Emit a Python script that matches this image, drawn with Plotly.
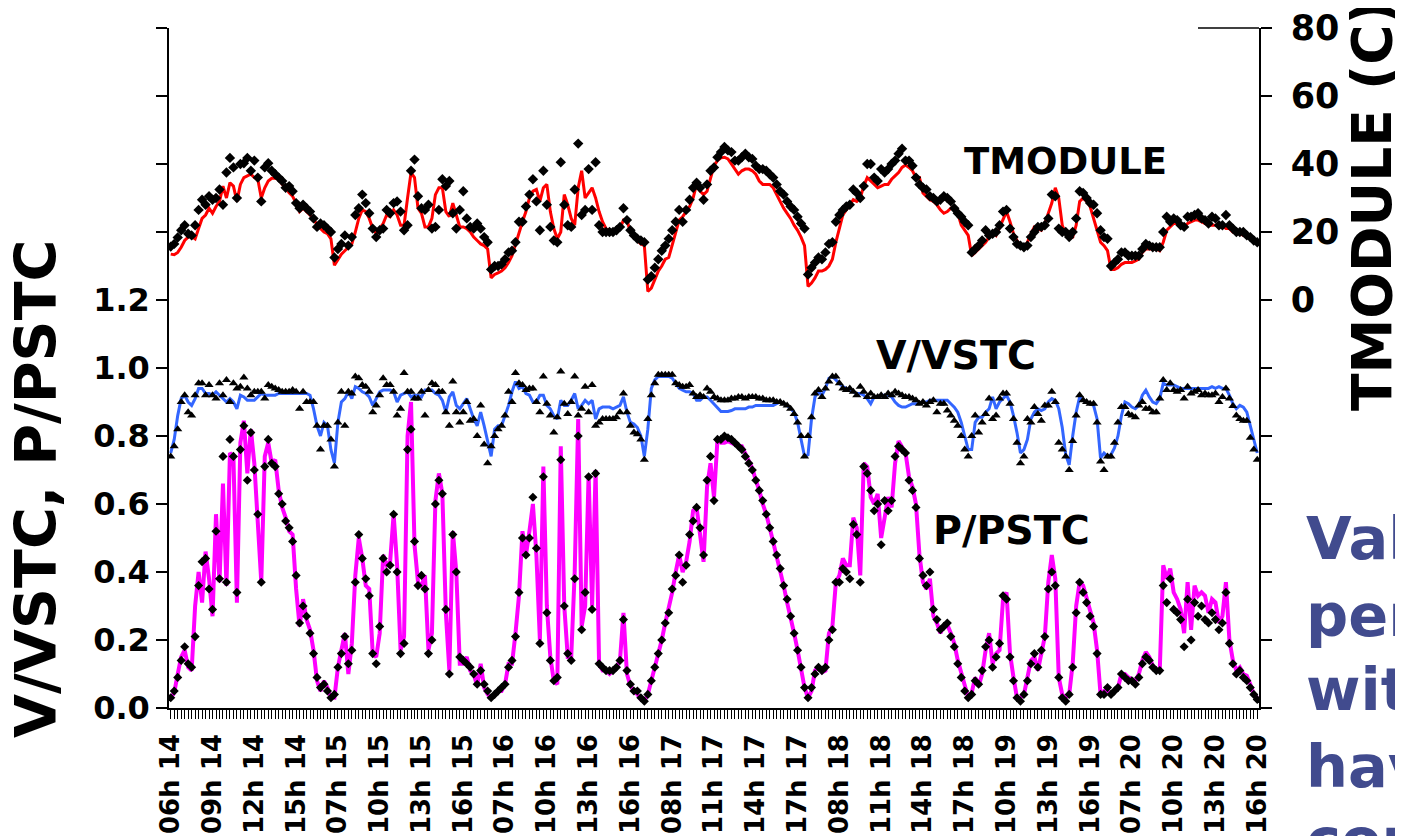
import plotly.graph_objects as go

# ---------------- data (15-min samples, 313 points) ----------------
tick_labels = ["06h 14", "09h 14", "12h 14", "15h 14", "07h 15", "10h 15", "13h 15", "16h 15",
               "07h 16", "10h 16", "13h 16", "16h 16", "08h 17", "11h 17", "14h 17", "17h 17",
               "08h 18", "11h 18", "14h 18", "17h 18", "10h 19", "13h 19", "16h 19", "07h 20",
               "10h 20", "13h 20", "16h 20"]

t_measured = [
    13.5, 13.3, 14, 15.5, 17.5, 18.5, 18.7, 18, 21, 24,
    25, 27, 25.5, 27.5, 29, 33.5, 30, 34.5, 33.5, 29,
    34, 36, 36.5, 37, 36, 35.5, 30, 33, 35, 35.8,
    35.8, 35.5, 34, 33, 31.5, 30.5, 28.5, 26, 27, 26,
    25, 24, 22, 21, 20, 19.5, 18, 10.2, 12, 13.5,
    14.5, 15.5, 16.5, 20, 24, 26.5, 26, 24, 21, 19.5,
    21, 22.5, 25, 24.5, 26.5, 25, 22, 22, 30, 37.5,
    36, 27, 25.5, 21.5, 21.5, 24, 31, 33, 33, 26,
    24.5, 28.5, 25, 21.5, 21.5, 21, 20, 18.5, 17.5, 16.5,
    16, 15, 6.5, 7.5, 8, 8.5, 9.5, 11, 13, 16.5,
    20, 23, 26, 30, 32, 32.5, 29, 33, 34, 26,
    21, 18, 20, 31, 28, 24, 22, 33, 38, 30,
    31.5, 33, 30, 26, 23, 21, 20, 20, 20.5, 21,
    23.5, 23.5, 20, 18.5, 17.5, 16.5, 16, 2.5, 3.5, 6,
    8.5, 10, 12, 12.5, 16, 20, 23.5, 24.5, 26, 27.5,
    30, 34, 32, 31, 32, 36, 39.5, 41, 41.8, 42,
    41.5, 40, 38.5, 37, 38, 38.5, 38.5, 38, 37, 35,
    34, 34, 34, 33, 31, 29, 27, 25.5, 24, 22,
    20.5, 18.5, 16, 4, 5, 6.5, 8.5, 8.5, 9, 10,
    12, 17, 21.5, 25, 26.5, 28, 29.5, 29, 30, 33.5,
    36, 35, 34, 33, 33.5, 34, 34, 35.5, 36.5, 37.5,
    39, 39.7, 39, 38, 36, 36, 31.5, 30.5, 29.5, 29,
    28, 26.5, 25.5, 26, 27, 27.5, 25.5, 22, 20.5, 19,
    13, 14, 15, 16, 17, 18.5, 20, 19, 21.5, 24,
    26, 23, 19.5, 17.5, 15.5, 15, 17, 19.5, 21.5, 21,
    20.5, 22.5, 25.5, 28.5, 33, 30, 22, 19.5, 18, 18.5,
    22, 29, 30, 29, 27.5, 24, 20, 17, 16, 14.5,
    9, 9, 9.5, 10.5, 11, 11, 11, 11.5, 12, 14,
    15, 15, 15, 15, 14.5, 17, 20.5, 21.5, 22.5, 22.5,
    22, 21.5, 22.5, 23, 23.5, 23.5, 23, 22.5, 22, 22,
    22, 21.5, 22, 21, 21, 20, 19.5, 19.5, 19, 18.5, 18, 17.5, 16.5]

t_model = [
    15.7, 16.5, 18.4, 20.5, 22, 19.5, 19, 22, 26.5, 29.5,
    28, 30.5, 29.5, 30, 32.5, 28, 37.5, 41.8, 39, 30,
    40, 40.2, 41.8, 38, 41, 36, 29, 39, 40.2, 38,
    37, 36, 35, 33, 33.5, 32, 28.5, 27, 28, 27,
    26, 24, 21.5, 22.5, 22, 21, 20, 12.5, 15, 16.5,
    19, 16, 18.5, 25, 27, 31, 28.5, 25.5, 21, 18.5,
    20.5, 21, 26.5, 25.5, 28.5, 29, 26, 20.5, 22, 38,
    41.3, 30.5, 27, 26.5, 28, 21, 21.5, 26.5, 35.5, 33.5,
    35, 25.5, 21, 26.5, 32, 24, 21.5, 21, 22.5, 21,
    18.5, 17, 9, 10, 10, 10.5, 12, 14, 14.5, 17,
    23, 23, 27.5, 31, 35.5, 29, 20.5, 38, 28, 21.5,
    17.5, 17, 40.5, 28, 22, 21.5, 32.5, 46, 25, 26.5,
    38.5, 26.5, 40.5, 22, 20, 20, 20, 20, 20.5, 21.5,
    27, 23.5, 20.5, 19, 18, 17.5, 17, 6, 7, 9.5,
    12, 14.5, 16, 18, 20.5, 23, 26.5, 23, 26.5, 29.5,
    33, 34.5, 33, 29.5, 34, 38, 39, 42, 43.5, 45,
    44, 43.5, 41, 41, 42, 43, 42, 41.5, 39.5, 38.5,
    38.5, 38, 37, 36, 34, 32, 31, 29, 27.5, 26.5,
    24.5, 22.5, 21, 7.5, 9.5, 11, 12.5, 12, 14, 16.5,
    17, 23, 25, 26.5, 27.5, 28, 32.5, 31.5, 30, 33.5,
    40, 40, 36, 35, 38.5, 37.5, 38.5, 40, 41, 43,
    44.5, 41, 41, 39.5, 36, 34, 33, 32.5, 30.5, 30,
    29, 29.5, 30.5, 30, 29, 27, 25.5, 24.5, 23, 22,
    14, 15, 16, 17.5, 20.5, 19, 19.5, 20, 22, 26,
    26.5, 21, 18.5, 16.5, 16, 15.5, 16, 18.5, 20, 21.5,
    21.5, 22, 24, 31, 30.5, 21, 20, 20, 18.5, 20,
    24, 32, 31.5, 30, 28.5, 28, 25.5, 20.5, 18.5, 18,
    10, 11, 12, 14, 14, 13, 13, 13, 13, 15,
    16.5, 16, 15.5, 15.5, 15.5, 20, 24.5, 23, 24, 23.5,
    22, 21.5, 24.5, 24.5, 25, 25.5, 24, 23.5, 22.5, 24.5,
    24, 22, 22, 25, 22, 21, 20, 20, 20, 19, 18.5, 17.5, 17]

v_measured = [
    0.75, 0.79, 0.86, 0.91, 0.92, 0.90, 0.89, 0.91, 0.94, 0.94,
    0.925, 0.925, 0.92, 0.93, 0.92, 0.91, 0.90, 0.91, 0.90, 0.88,
    0.92, 0.915, 0.905, 0.905, 0.905, 0.915, 0.925, 0.92, 0.92, 0.92,
    0.92, 0.925, 0.925, 0.925, 0.925, 0.925, 0.925, 0.925, 0.925, 0.925,
    0.92, 0.88, 0.83, 0.80, 0.84, 0.83, 0.76, 0.72, 0.84, 0.90,
    0.91, 0.93, 0.91, 0.945, 0.94, 0.93, 0.925, 0.915, 0.89, 0.91,
    0.93, 0.935, 0.935, 0.935, 0.93, 0.90, 0.92, 0.925, 0.93, 0.915,
    0.92, 0.92, 0.915, 0.935, 0.935, 0.935, 0.925, 0.92, 0.905, 0.87,
    0.915, 0.93, 0.89, 0.88, 0.895, 0.91, 0.88, 0.85, 0.83, 0.87,
    0.83, 0.78, 0.74, 0.82, 0.83, 0.83, 0.86, 0.89, 0.93, 0.96,
    0.94, 0.945, 0.925, 0.92, 0.90, 0.90, 0.92, 0.92, 0.89, 0.88,
    0.86, 0.85, 0.905, 0.89, 0.89, 0.905, 0.925, 0.88, 0.89, 0.905,
    0.895, 0.905, 0.85, 0.88, 0.885, 0.885, 0.885, 0.88, 0.885, 0.89,
    0.915, 0.87, 0.84, 0.835, 0.825, 0.80, 0.74, 0.82, 0.94, 0.965,
    0.975, 0.975, 0.975, 0.975, 0.97, 0.955, 0.94, 0.935, 0.93, 0.93,
    0.925, 0.905, 0.905, 0.915, 0.915, 0.905, 0.895, 0.885, 0.872, 0.872,
    0.872, 0.875, 0.88, 0.88, 0.88, 0.88, 0.885, 0.885, 0.89, 0.89,
    0.89, 0.89, 0.89, 0.89, 0.895, 0.90, 0.895, 0.89, 0.88, 0.87,
    0.84, 0.79, 0.74, 0.745, 0.85, 0.915, 0.93, 0.92, 0.94, 0.97,
    0.975, 0.965, 0.955, 0.945, 0.94, 0.935, 0.93, 0.925, 0.925, 0.92,
    0.91, 0.895, 0.915, 0.915, 0.92, 0.92, 0.92, 0.915, 0.90, 0.89,
    0.885, 0.885, 0.89, 0.895, 0.895, 0.895, 0.90, 0.90, 0.905, 0.905,
    0.905, 0.905, 0.905, 0.905, 0.895, 0.885, 0.87, 0.84, 0.80, 0.76,
    0.76, 0.84, 0.855, 0.855, 0.87, 0.88, 0.915, 0.88, 0.90, 0.91,
    0.92, 0.90, 0.86, 0.81, 0.75, 0.76, 0.79, 0.85, 0.87, 0.88,
    0.875, 0.88, 0.90, 0.91, 0.905, 0.88, 0.825, 0.745, 0.715, 0.80,
    0.87, 0.915, 0.905, 0.90, 0.895, 0.89, 0.85, 0.735, 0.75, 0.74,
    0.745, 0.765, 0.80, 0.86, 0.90, 0.895, 0.885, 0.88, 0.89, 0.92,
    0.935, 0.915, 0.90, 0.895, 0.91, 0.955, 0.95, 0.95, 0.95, 0.945,
    0.94, 0.94, 0.94, 0.94, 0.94, 0.94, 0.94, 0.94, 0.94, 0.945,
    0.94, 0.945, 0.94, 0.94, 0.92, 0.895, 0.88, 0.89, 0.885, 0.87, 0.83, 0.79, 0.75]

v_model = [
    0.74, 0.77, 0.82, 0.90, 0.92, 0.87, 0.86, 0.92, 0.955, 0.955,
    0.92, 0.95, 0.92, 0.91, 0.955, 0.92, 0.965, 0.90, 0.955, 0.94,
    0.945, 0.972, 0.94, 0.92, 0.93, 0.93, 0.93, 0.91, 0.95, 0.945,
    0.94, 0.935, 0.93, 0.93, 0.93, 0.935, 0.93, 0.88, 0.93, 0.90,
    0.90, 0.90, 0.83, 0.76, 0.83, 0.83, 0.79, 0.71, 0.84, 0.93,
    0.83, 0.93, 0.925, 0.975, 0.97, 0.95, 0.945, 0.93, 0.87, 0.89,
    0.92, 0.97, 0.95, 0.95, 0.93, 0.86, 0.88, 0.985, 0.93, 0.93,
    0.91, 0.91, 0.93, 0.86, 0.935, 0.955, 0.95, 0.93, 0.93, 0.87,
    0.83, 0.96, 0.87, 0.84, 0.87, 0.90, 0.845, 0.85, 0.80, 0.89,
    0.775, 0.72, 0.77, 0.80, 0.82, 0.83, 0.86, 0.93, 0.90, 0.985,
    0.955, 0.95, 0.935, 0.94, 0.94, 0.90, 0.87, 0.975, 0.895, 0.86,
    0.81, 0.855, 0.99, 0.895, 0.865, 0.90, 0.975, 0.86, 0.88, 0.945,
    0.87, 0.95, 0.83, 0.84, 0.85, 0.85, 0.85, 0.85, 0.855, 0.87,
    0.925, 0.87, 0.83, 0.81, 0.805, 0.79, 0.73, 0.85, 0.92, 0.955,
    0.98, 0.98, 0.98, 0.98, 0.98, 0.955, 0.95, 0.945, 0.945, 0.95,
    0.925, 0.915, 0.92, 0.915, 0.94, 0.93, 0.915, 0.91, 0.905, 0.905,
    0.905, 0.91, 0.91, 0.915, 0.915, 0.91, 0.915, 0.915, 0.915, 0.91,
    0.91, 0.905, 0.905, 0.905, 0.90, 0.90, 0.895, 0.89, 0.88, 0.865,
    0.84, 0.80, 0.74, 0.80, 0.855, 0.925, 0.935, 0.915, 0.94, 0.96,
    0.975, 0.975, 0.955, 0.94, 0.935, 0.94, 0.93, 0.92, 0.945, 0.93,
    0.915, 0.925, 0.915, 0.915, 0.92, 0.915, 0.925, 0.92, 0.93, 0.925,
    0.92, 0.915, 0.915, 0.91, 0.905, 0.895, 0.90, 0.89, 0.90, 0.905,
    0.87, 0.895, 0.895, 0.875, 0.86, 0.845, 0.83, 0.80, 0.76, 0.74,
    0.80, 0.86, 0.81, 0.84, 0.865, 0.91, 0.85, 0.86, 0.91, 0.925,
    0.925, 0.895, 0.85, 0.78, 0.72, 0.74, 0.85, 0.84, 0.885, 0.865,
    0.845, 0.89, 0.89, 0.93, 0.90, 0.78, 0.76, 0.74, 0.70, 0.785,
    0.86, 0.92, 0.905, 0.90, 0.895, 0.895, 0.84, 0.725, 0.70, 0.74,
    0.74, 0.78, 0.84, 0.885, 0.885, 0.865, 0.86, 0.855, 0.89, 0.90,
    0.88, 0.88, 0.87, 0.87, 0.91, 0.965, 0.935, 0.955, 0.935, 0.93,
    0.935, 0.91, 0.945, 0.925, 0.93, 0.935, 0.92, 0.925, 0.92, 0.92,
    0.925, 0.90, 0.915, 0.94, 0.91, 0.888, 0.86, 0.85, 0.845, 0.845, 0.795, 0.76, 0.73]

p_measured = [
    0.03, 0.045, 0.10, 0.15, 0.17, 0.12, 0.11, 0.30, 0.40, 0.31,
    0.46, 0.38, 0.27, 0.57, 0.37, 0.66, 0.36, 0.75, 0.74, 0.31,
    0.78, 0.845, 0.69, 0.82, 0.72, 0.55, 0.37, 0.74, 0.78, 0.72,
    0.73, 0.64, 0.59, 0.56, 0.52, 0.51, 0.35, 0.24, 0.32, 0.26,
    0.23, 0.17, 0.08, 0.05, 0.08, 0.06, 0.03, 0.03, 0.12, 0.17,
    0.22, 0.10, 0.19, 0.39, 0.50, 0.44, 0.36, 0.35, 0.16, 0.15,
    0.22, 0.45, 0.42, 0.43, 0.57, 0.42, 0.17, 0.21, 0.80, 0.90,
    0.48, 0.37, 0.36, 0.39, 0.17, 0.22, 0.61, 0.69, 0.63, 0.28,
    0.11, 0.52, 0.40, 0.13, 0.13, 0.15, 0.11, 0.10, 0.065, 0.13,
    0.06, 0.04, 0.03, 0.04, 0.05, 0.05, 0.07, 0.13, 0.13, 0.22,
    0.33, 0.52, 0.45, 0.52, 0.60, 0.45, 0.20, 0.71, 0.30, 0.15,
    0.08, 0.07, 0.77, 0.30, 0.15, 0.15, 0.40, 0.85, 0.24, 0.30,
    0.687, 0.30, 0.70, 0.13, 0.11, 0.11, 0.10, 0.11, 0.12, 0.14,
    0.28, 0.10, 0.065, 0.05, 0.04, 0.025, 0.02, 0.04, 0.08, 0.11,
    0.15, 0.20, 0.25, 0.29, 0.34, 0.40, 0.45, 0.40, 0.43, 0.49,
    0.58, 0.59, 0.50, 0.43, 0.65, 0.72, 0.62, 0.79, 0.78, 0.78,
    0.785, 0.78, 0.775, 0.77, 0.77, 0.75, 0.73, 0.705, 0.67, 0.64,
    0.60, 0.57, 0.53, 0.49, 0.45, 0.41, 0.36, 0.31, 0.27, 0.22,
    0.17, 0.12, 0.06, 0.03, 0.05, 0.11, 0.12, 0.105, 0.11, 0.22,
    0.24, 0.37, 0.39, 0.44, 0.42, 0.42, 0.56, 0.53, 0.39, 0.72,
    0.71, 0.62, 0.60, 0.63, 0.50, 0.56, 0.62, 0.59, 0.72, 0.785,
    0.77, 0.75, 0.68, 0.65, 0.60, 0.45, 0.37, 0.35, 0.38, 0.27,
    0.25, 0.22, 0.24, 0.245, 0.22, 0.19, 0.14, 0.10, 0.06, 0.03,
    0.045, 0.09, 0.065, 0.10, 0.17, 0.22, 0.13, 0.16, 0.17, 0.32,
    0.34, 0.16, 0.09, 0.03, 0.03, 0.04, 0.09, 0.14, 0.15, 0.11,
    0.16, 0.21, 0.37, 0.45, 0.38, 0.09, 0.04, 0.03, 0.04, 0.13,
    0.30, 0.37, 0.36, 0.32, 0.28, 0.25, 0.17, 0.04, 0.05, 0.05,
    0.04, 0.05, 0.06, 0.10, 0.10, 0.09, 0.085, 0.08, 0.10, 0.14,
    0.165, 0.15, 0.125, 0.11, 0.11, 0.42, 0.38, 0.41, 0.34, 0.32,
    0.29, 0.22, 0.37, 0.23, 0.36, 0.33, 0.34, 0.33, 0.28, 0.32,
    0.31, 0.25, 0.27, 0.37, 0.20, 0.14, 0.11, 0.12, 0.10, 0.095, 0.07, 0.04, 0.03]

p_model = [
    0.03, 0.05, 0.09, 0.14, 0.18, 0.13, 0.12, 0.21, 0.36, 0.43,
    0.44, 0.35, 0.29, 0.52, 0.38, 0.74, 0.37, 0.79, 0.74, 0.34,
    0.76, 0.83, 0.67, 0.81, 0.70, 0.57, 0.37, 0.71, 0.79, 0.72,
    0.71, 0.63, 0.60, 0.55, 0.53, 0.49, 0.39, 0.25, 0.30, 0.27,
    0.22, 0.16, 0.09, 0.06, 0.07, 0.05, 0.03, 0.04, 0.12, 0.16,
    0.21, 0.13, 0.17, 0.37, 0.51, 0.44, 0.38, 0.33, 0.16, 0.13,
    0.24, 0.44, 0.40, 0.42, 0.57, 0.40, 0.16, 0.19, 0.76, 0.82,
    0.49, 0.36, 0.39, 0.35, 0.16, 0.20, 0.60, 0.67, 0.63, 0.29,
    0.10, 0.51, 0.40, 0.15, 0.14, 0.13, 0.12, 0.10, 0.07, 0.11,
    0.07, 0.05, 0.03, 0.04, 0.05, 0.06, 0.07, 0.12, 0.14, 0.21,
    0.34, 0.50, 0.45, 0.50, 0.62, 0.47, 0.19, 0.68, 0.28, 0.14,
    0.08, 0.09, 0.73, 0.30, 0.16, 0.14, 0.38, 0.80, 0.23, 0.34,
    0.68, 0.29, 0.69, 0.13, 0.12, 0.11, 0.11, 0.11, 0.12, 0.14,
    0.26, 0.11, 0.07, 0.05, 0.05, 0.03, 0.02, 0.04, 0.08, 0.12,
    0.16, 0.20, 0.25, 0.28, 0.35, 0.39, 0.45, 0.37, 0.42, 0.51,
    0.55, 0.59, 0.53, 0.45, 0.67, 0.74, 0.61, 0.79, 0.79, 0.80,
    0.795, 0.79, 0.78, 0.77, 0.76, 0.74, 0.72, 0.70, 0.67, 0.64,
    0.61, 0.57, 0.53, 0.49, 0.45, 0.41, 0.36, 0.32, 0.27, 0.22,
    0.17, 0.12, 0.06, 0.03, 0.06, 0.10, 0.12, 0.11, 0.12, 0.20,
    0.23, 0.37, 0.37, 0.41, 0.40, 0.38, 0.54, 0.51, 0.37, 0.71,
    0.69, 0.64, 0.58, 0.60, 0.48, 0.61, 0.58, 0.61, 0.74, 0.77,
    0.76, 0.75, 0.67, 0.64, 0.59, 0.44, 0.39, 0.36, 0.40, 0.29,
    0.26, 0.23, 0.24, 0.25, 0.21, 0.18, 0.13, 0.09, 0.05, 0.03,
    0.04, 0.08, 0.07, 0.11, 0.18, 0.20, 0.12, 0.15, 0.19, 0.33,
    0.32, 0.15, 0.08, 0.03, 0.02, 0.04, 0.08, 0.13, 0.16, 0.12,
    0.17, 0.21, 0.35, 0.40, 0.36, 0.09, 0.03, 0.02, 0.04, 0.12,
    0.28, 0.37, 0.34, 0.31, 0.27, 0.24, 0.16, 0.04, 0.04, 0.06,
    0.04, 0.05, 0.06, 0.10, 0.09, 0.08, 0.08, 0.07, 0.09, 0.13,
    0.15, 0.14, 0.12, 0.11, 0.11, 0.36, 0.31, 0.38, 0.29, 0.28,
    0.26, 0.18, 0.32, 0.20, 0.31, 0.27, 0.30, 0.26, 0.25, 0.28,
    0.26, 0.23, 0.25, 0.34, 0.19, 0.13, 0.10, 0.11, 0.09, 0.08, 0.06, 0.04, 0.025]

left_ticks = [0.0, 0.2, 0.4, 0.6, 0.8, 1.0, 1.2, 1.4, 1.6, 1.8, 2.0]
left_labels = ["0.0", "0.2", "0.4", "0.6", "0.8", "1.0", "1.2", "", "", "", ""]
right_ticks = [-120, -100, -80, -60, -40, -20, 0, 20, 40, 60, 80]
right_labels = ["", "", "", "", "", "", "0", "20", "40", "60", "80"]
side_note = ["Values", "per", "with", "have", "corrected"]

# ---------------- figure ----------------
n = len(t_measured)
x = list(range(n))
ticktext = [tick_labels[i // 12] if i % 12 == 0 and i // 12 < len(tick_labels) else "" for i in x]

FONT = "DejaVu Sans"
fig = go.Figure()

fig.add_trace(go.Scatter(x=x, y=t_measured, yaxis="y2", mode="lines",
                         line=dict(color="#FF0000", width=3), name="TMODULE meas"))
fig.add_trace(go.Scatter(x=x, y=v_measured, mode="lines",
                         line=dict(color="#3366FF", width=3), name="V/VSTC meas"))
fig.add_trace(go.Scatter(x=x, y=p_measured, mode="lines",
                         line=dict(color="#FF00FF", width=4), name="P/PSTC meas"))
fig.add_trace(go.Scatter(x=x, y=t_model, yaxis="y2", mode="markers",
                         marker=dict(symbol="diamond", size=8, color="black"), name="TMODULE model"))
fig.add_trace(go.Scatter(x=x, y=v_model, mode="markers",
                         marker=dict(symbol="triangle-up", size=8, color="black"), name="V/VSTC model"))
fig.add_trace(go.Scatter(x=x, y=p_model, mode="markers",
                         marker=dict(symbol="diamond", size=7, color="black"), name="P/PSTC model"))

# page body adds an 8 px offset; margins compensate so the plot area sits at 169..1259 x 28..708
fig.update_layout(
    width=1403, height=836,
    margin=dict(l=161, r=152, t=20, b=136, autoexpand=False),
    paper_bgcolor="white", plot_bgcolor="white",
    showlegend=False,
    font=dict(family=FONT, color="black"),
    xaxis=dict(range=[-0.5, n - 0.5], tickmode="array", tickvals=x, ticktext=ticktext,
               ticks="outside", ticklen=9, tickwidth=1, tickcolor="black",
               tickangle=-90, tickfont=dict(family=FONT, size=26, weight="bold", color="black"),
               ticklabelstandoff=5, automargin=False,
               showline=True, linecolor="black", linewidth=1.5,
               showgrid=False, zeroline=False),
    yaxis=dict(range=[0, 2.0], tickmode="array", tickvals=left_ticks, ticktext=left_labels,
               ticks="outside", ticklen=11, tickwidth=1.5, tickcolor="black",
               tickfont=dict(family=FONT, size=32, weight="bold", color="black"),
               automargin=False,
               showline=True, linecolor="black", linewidth=1.5,
               showgrid=False, zeroline=False),
    yaxis2=dict(range=[-120, 80], overlaying="y", side="right", tickmode="array",
                tickvals=right_ticks, ticktext=right_labels,
                ticks="outside", ticklen=11, tickwidth=1.5, tickcolor="black",
                tickfont=dict(family=FONT, size=35, weight="bold", color="black"),
                ticklabelstandoff=12, automargin=False,
                showline=True, linecolor="black", linewidth=1.5,
                showgrid=False, zeroline=False),
)

anns = [
    dict(text="V/VSTC, P/PSTC", x=-0.122, y=0.322, textangle=-90, size=57),
    dict(text="TMODULE (C)", x=1.1037, y=0.7397, textangle=-90, size=55),
    dict(text="TMODULE", x=0.8225, y=0.803, textangle=0, size=37),
    dict(text="V/VSTC", x=0.722, y=0.519, textangle=0, size=39.5),
    dict(text="P/PSTC", x=0.7725, y=0.262, textangle=0, size=39.5),
]
for a in anns:
    fig.add_annotation(text=a["text"], xref="paper", yref="paper", x=a["x"], y=a["y"],
                       xanchor="center", yanchor="middle", textangle=a["textangle"],
                       showarrow=False,
                       font=dict(family=FONT, size=a["size"], weight="bold", color="black"))

note_mid_px = [538, 615, 689, 767, 839]
for word, ypx in zip(side_note, note_mid_px):
    fig.add_annotation(text=word, xref="paper", yref="paper",
                       x=(1304 - 169) / 1090, y=(708 - ypx) / 680,
                       xanchor="left", yanchor="middle", showarrow=False,
                       font=dict(family=FONT, size=59, weight="bold", color="#414B8E"))

fig.add_shape(type="line", xref="paper", yref="paper", x0=(1198 - 169) / 1090, x1=1.0,
              y0=1.0, y1=1.0, line=dict(color="black", width=1.5))

fig.write_html("out.html")
